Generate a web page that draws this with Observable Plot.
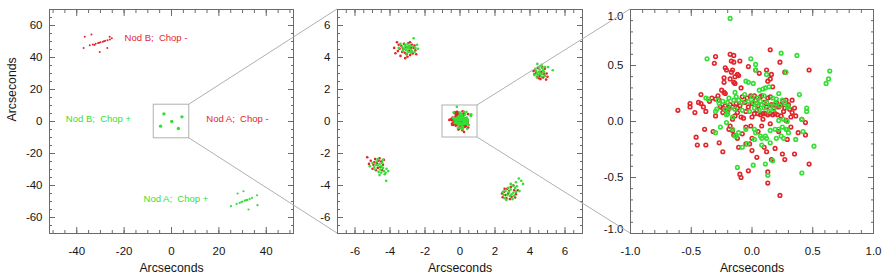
<!DOCTYPE html>
<html><head><meta charset="utf-8">
<script src="https://cdn.jsdelivr.net/npm/d3@7"></script>
<script src="https://cdn.jsdelivr.net/npm/@observablehq/plot@0.6"></script>
<style>
body{margin:0;background:#fff;}
#wrap{position:relative;width:885px;height:278px;overflow:hidden;background:#fff;}
#wrap svg{position:absolute;top:0;}
</style></head><body><div id="wrap"></div>
<script>
// ---------------- data ----------------
// Panel 1 (wide field)
const p1Red = [[-36.6,52.9],[-33.8,54.4],[-26.1,52.9],[-37.1,46.0],[-30.3,43.5],[-27.1,46.0],
  [-34.5,47.6],[-33.2,48.2],[-32.5,47.8],[-32.0,48.6],[-31.0,49.0],[-30.5,49.2],[-30.0,49.5],
  [-29.0,49.9],[-28.5,50.1],[-28.0,50.4],[-27.0,50.8],[-26.0,51.3],[-25.2,52.0]];
const p1Green = [[27.9,-45.0],[30.4,-43.6],[36.1,-46.1],[25.1,-52.9],[36.3,-52.3],[32.5,-55.0],
  [27.5,-51.5],[28.8,-50.8],[29.5,-50.3],[30.0,-50.0],[31.0,-49.5],[31.5,-49.2],[32.0,-49.0],
  [33.0,-48.4],[34.0,-47.7]];
const p1Center = [[-3.2,4.75],[4.4,2.9],[-4.6,-2.9],[0.1,0.0],[2.9,-4.4]];
const redLabels = ["Nod B;\u00a0 Chop -", "Nod A;\u00a0 Chop -"];
const redLabelX = [-19.8, 14.7];
const redLabelY = [52.3, 1.6];
const greenLabels = ["Nod B;\u00a0 Chop +", "Nod A;\u00a0 Chop +"];
const greenLabelX = [-44.6, -11.8];
const greenLabelY = [1.6, -48.4];
const box1 = {x1: -7.5, x2: 7.5, y1: -10.5, y2: 10.5};

// Panel 2 outer clusters
const p2RedA = [[-3.69,4.27],[-3.13,3.96],[-3.50,4.80],[-3.35,4.72],[-3.20,4.85],[-2.95,4.90],[-2.75,4.80],[-2.65,4.60],[-2.55,4.45],[-2.70,4.25],[-2.85,4.15],[-3.05,4.20],[-3.30,4.35],[-3.45,4.55],[-3.55,4.40],[-3.76,4.60],[-3.25,4.55],[-3.10,4.65],[-2.90,4.40],[-2.80,4.60],[-3.00,4.05],[-3.40,4.10],[-2.60,4.75],[-3.15,4.30],[-2.50,4.20],[-3.60,4.95],[-2.85,4.95]];
const p2GreenA = [[-2.65,5.20],[-3.10,4.70],[-3.00,4.60],[-2.90,4.65],[-2.80,4.50],[-3.05,4.45],[-3.20,4.55],[-2.95,4.35],[-2.75,4.40],[-3.15,4.80],[-2.85,4.75],[-3.30,4.65],[-3.00,4.85],[-2.70,4.70],[-3.25,4.40],[-2.55,4.60],[-2.45,4.80],[-3.40,4.85],[-2.60,4.35],[-3.05,4.25],[-2.90,4.55],[-3.10,4.50],[-2.95,4.70],[-2.80,4.30],[-3.50,4.60],[-2.40,4.55]];
const p2RedB = [[4.92,2.62],[4.30,3.20],[4.40,2.80],[4.75,2.75],[4.85,3.30],[4.60,2.65],[4.35,3.05],[4.70,3.40],[4.50,2.70],[4.80,2.95],[4.25,2.95],[4.65,3.10],[4.95,3.00],[4.45,3.35],[4.55,2.85],[4.20,3.15],[5.00,2.80]];
const p2GreenB = [[4.42,3.60],[4.86,3.40],[5.03,3.40],[4.67,3.55],[4.50,3.10],[4.60,3.00],[4.40,3.00],[4.70,2.95],[4.55,3.25],[4.35,3.15],[4.75,3.20],[4.45,2.90],[4.65,2.80],[4.50,3.40],[4.80,3.10],[4.30,3.30],[4.60,3.45],[4.40,2.75],[4.70,3.35],[4.55,2.95],[5.30,3.20],[4.25,2.90],[4.85,2.85]];
const p2RedC = [[-5.30,-2.23],[-5.10,-2.45],[-4.85,-2.35],[-4.60,-2.30],[-4.50,-2.50],[-4.75,-2.60],[-4.95,-2.70],[-4.70,-2.90],[-4.55,-2.85],[-4.40,-2.70],[-5.00,-2.95],[-4.80,-3.05],[-4.65,-2.45],[-4.45,-3.05],[-4.90,-2.55],[-5.20,-2.65],[-4.35,-2.40]];
const p2GreenC = [[-4.22,-3.71],[-4.60,-2.65],[-4.70,-2.75],[-4.50,-2.80],[-4.80,-2.70],[-4.40,-2.90],[-4.55,-3.00],[-4.65,-3.15],[-4.35,-3.10],[-4.75,-2.50],[-4.45,-2.60],[-4.90,-2.85],[-4.30,-3.30],[-4.60,-3.35],[-4.20,-2.95],[-5.00,-2.60],[-4.85,-3.00],[-4.50,-3.20],[-4.25,-3.20],[-4.70,-2.35],[-4.40,-2.40],[-5.15,-2.80],[-4.10,-3.10]];
const p2RedD = [[2.44,-4.73],[2.60,-4.60],[2.50,-4.40],[2.70,-4.20],[2.90,-4.10],[3.10,-4.30],[3.20,-4.55],[2.95,-4.70],[2.75,-4.50],[2.85,-4.85],[2.55,-4.20],[3.05,-4.00],[3.30,-4.30],[2.65,-4.80],[3.15,-4.75],[2.80,-4.35],[2.40,-4.50]];
const p2GreenD = [[3.36,-3.56],[3.20,-3.80],[3.00,-4.00],[2.90,-4.25],[2.80,-4.40],[2.70,-4.60],[3.05,-4.45],[3.15,-4.15],[2.60,-4.35],[2.95,-4.55],[3.25,-4.05],[2.75,-4.15],[2.85,-4.65],[3.10,-4.65],[2.50,-4.60],[3.40,-4.35],[2.65,-4.90],[3.00,-4.85],[3.50,-3.70],[2.45,-4.40],[3.20,-4.40],[2.90,-3.90],[3.60,-3.90],[2.55,-4.80]];
const box2 = {x1: -1, x2: 1, y1: -1, y2: 1};

// Panel 3 (central cluster, also shown at panel 2 origin)
const p3Red = [[0.15,0.64],[-0.30,0.58],[-0.18,0.60],[-0.15,0.59],[-0.31,0.52],[-0.17,0.54],[-0.15,0.53],[-0.10,0.54],[0.23,0.53],[-0.22,0.48],[-0.21,0.46],[-0.16,0.46],[-0.17,0.44],[-0.03,0.49],[0.03,0.46],[0.12,0.46],[0.16,0.42],[0.06,0.43],[0.27,0.44],[0.47,0.46],[-0.12,0.42],[-0.14,0.40],[-0.11,0.41],[-0.23,0.39],[-0.23,0.35],[-0.18,0.38],[-0.15,0.35],[-0.14,0.34],[0.15,0.38],[0.13,0.36],[-0.09,0.30],[-0.25,0.28],[0.17,0.31],
  [-0.23,0.26],[-0.22,0.25],[-0.42,0.24],[-0.44,0.17],[-0.42,0.16],[-0.51,0.16],[-0.51,0.13],[-0.33,0.21],[-0.30,0.20],[-0.08,0.22],[-0.04,0.21],[-0.01,0.23],[0.02,0.23],[0.07,0.22],[0.08,0.23],[0.13,0.21],[0.15,0.22],[0.25,0.18],[0.28,0.19],[0.33,0.19],[-0.61,0.10],[-0.47,0.08],[-0.40,0.13],[-0.38,0.09],[-0.27,0.19],[-0.26,0.13],[-0.24,0.12],[-0.22,0.14],[-0.20,0.11],[-0.18,0.15],[-0.16,0.13],[-0.13,0.16],[-0.12,0.12],[-0.10,0.14],[-0.06,0.17],[-0.03,0.13],[0.00,0.16],[0.03,0.19],[0.05,0.14],[0.10,0.17],[0.12,0.13],[0.16,0.15],[0.18,0.12],[0.20,0.17],[0.22,0.13],[0.24,0.15],[0.27,0.12],[0.30,0.15],[0.31,0.11],[0.35,0.12],[-0.35,0.18],[-0.28,0.23],
  [0.02,0.07],[0.05,0.07],[0.07,0.06],[0.09,0.07],[0.11,0.07],[0.13,0.06],[0.15,0.07],[0.17,0.06],[0.19,0.07],[0.21,0.06],[0.24,0.05],[0.28,0.01],[0.32,0.04],[0.41,0.02],[0.44,-0.01],[0.36,0.05],[-0.07,0.03],[0.00,0.04],[-0.14,0.05],[-0.09,0.04],[-0.16,0.02],[0.09,0.02],[-0.24,0.08],[-0.30,0.05],[-0.20,0.09],[-0.12,0.08],[-0.05,0.09],[0.04,0.10],[0.26,0.09],[0.33,0.08],
  [-0.39,-0.07],[-0.46,-0.14],[-0.45,-0.21],[-0.38,-0.21],[-0.27,-0.19],[-0.24,-0.27],[-0.18,-0.04],[-0.19,-0.07],[-0.16,-0.08],[-0.15,-0.12],[-0.12,-0.15],[-0.11,-0.23],[-0.09,-0.50],[-0.10,-0.47],[-0.03,-0.44],[0.00,-0.26],[0.04,-0.32],[-0.05,-0.20],[-0.02,-0.20],[0.00,-0.15],[0.10,-0.23],[0.12,-0.27],[0.19,-0.24],[0.16,-0.34],[0.13,-0.45],[0.13,-0.55],[0.23,-0.66],[0.25,-0.29],[0.27,-0.34],[0.35,-0.29],[0.29,-0.16],[-0.05,-0.05],[-0.01,-0.04],[0.08,-0.04],[0.47,-0.38],[0.44,-0.12],[0.38,-0.10],[0.32,-0.05],[0.22,-0.09],[0.15,-0.02],[-0.32,-0.09],[-0.08,-0.11],[0.05,-0.09]];
const p3Green = [[-0.18,0.92],[-0.37,0.56],[-0.01,0.56],[0.24,0.61],[0.37,0.59],[0.03,0.51],[0.03,0.46],[0.28,0.44],[0.12,0.42],[0.64,0.45],[0.63,0.38],[0.61,0.34],[-0.05,0.36],[-0.03,0.35],[0.01,0.34],[0.09,0.29],[0.11,0.30],[0.06,0.28],[0.14,0.31],[0.22,0.25],[0.39,0.24],[-0.14,0.26],[-0.38,0.21],
  [-0.28,0.19],[-0.24,0.18],[-0.20,0.17],[-0.15,0.19],[-0.11,0.19],[-0.08,0.17],[-0.03,0.18],[0.01,0.17],[0.04,0.16],[0.08,0.15],[0.12,0.17],[0.15,0.14],[0.19,0.16],[0.23,0.14],[0.27,0.17],[0.30,0.13],[-0.06,0.24],[0.00,0.22],[0.05,0.21],[0.10,0.23],[0.17,0.21],[-0.13,0.22],[0.02,0.12],[0.06,0.10],[0.10,0.12],[0.14,0.09],[0.18,0.11],[-0.02,0.09],[0.07,0.18],[0.20,0.20],[0.25,0.19],[-0.19,0.21],
  [-0.30,0.09],[-0.22,0.11],[-0.18,0.12],[-0.14,0.11],[-0.08,0.10],[-0.21,-0.01],[-0.30,-0.10],[-0.26,-0.05],[-0.11,-0.10],[-0.14,-0.13],[-0.08,-0.23],[-0.05,-0.07],[0.02,-0.07],[0.03,-0.10],[0.07,-0.13],[0.11,-0.13],[0.08,-0.15],[0.12,-0.15],[0.15,-0.08],[0.19,-0.07],[0.25,-0.05],[0.28,-0.07],[0.30,-0.10],[0.20,-0.15],[0.26,-0.15],[0.36,-0.16],[0.42,-0.09],[0.41,-0.46],[0.17,-0.35],[0.01,-0.39],[0.11,-0.38],[-0.12,-0.41],[0.13,-0.48],[-0.21,0.06],[-0.16,0.04],[0.22,0.01],[0.26,0.02],[0.29,0.00],[0.41,0.02],[0.45,0.12],[0.45,0.09],[0.29,0.13],[0.51,-0.22],[0.08,-0.21],[0.15,-0.19],[0.02,-0.16],[-0.04,-0.20],[-0.16,-0.07],[-0.13,-0.13],[-0.29,0.11],[-0.27,0.16],[-0.20,0.07],[0.22,-0.07],[0.24,-0.13],[0.29,-0.07],[-0.36,0.20]];

// tick values
const p1XTicks = [-40, -20, 0, 20, 40];
const p1YTicks = [-60, -40, -20, 0, 20, 40, 60];
const p2Ticks = [-6, -4, -2, 0, 2, 4, 6];
const p3Ticks = [-1.0, -0.5, 0.0, 0.5, 1.0];
const axisTitle = "Arcseconds";

// ---------------- drawing ----------------
const FONT = "'Liberation Sans', Arial, Helvetica, sans-serif";
const RED = "#e0262c", GREEN = "#34df34", FRAME = "#6a6a6a", TEXT = "#151515", LINK = "#b0b0b0";
const H = 278;

function boxAxes({xMajor, xMinor, yMajor, yMinor, xFmt, yFmt, yLabelAxes, yTitle}) {
  const s = {stroke: FRAME, strokeWidth: 1, label: null, fill: "none"};
  const t = {tickSize: 0, label: null, fill: TEXT, fontSize: 11.5};
  const marks = [
    Plot.frame({stroke: FRAME, strokeWidth: 1}),
    Plot.axisX({...s, anchor: "bottom", ticks: xMajor, tickSize: 6, dy: -6}),
    Plot.axisX({...s, anchor: "top", ticks: xMajor, tickSize: 6, dy: 6}),
    Plot.axisX({...s, anchor: "bottom", ticks: xMinor, tickSize: 3, dy: -3}),
    Plot.axisX({...s, anchor: "top", ticks: xMinor, tickSize: 3, dy: 3}),
    Plot.axisY({...s, anchor: "left", ticks: yMajor, tickSize: 6, dx: 6}),
    Plot.axisY({...s, anchor: "right", ticks: yMajor, tickSize: 6, dx: -6}),
    Plot.axisY({...s, anchor: "left", ticks: yMinor, tickSize: 3, dx: 3}),
    Plot.axisY({...s, anchor: "right", ticks: yMinor, tickSize: 3, dx: -3}),
    Plot.axisX({...t, anchor: "bottom", ticks: xMajor, tickPadding: 13, tickFormat: xFmt}),
    Plot.text([axisTitle], {frameAnchor: "bottom", dy: 35, lineAnchor: "middle", fontSize: 12.3, fill: TEXT})
  ];
  if (yLabelAxes) marks.push(...yLabelAxes(t));
  else marks.push(Plot.axisY({...t, anchor: "left", ticks: yMajor, tickPadding: 7, tickFormat: yFmt}));
  if (yTitle) marks.push(Plot.text([axisTitle], {frameAnchor: "left", dx: -37, rotate: -90, lineAnchor: "middle", fontSize: 12.3, fill: TEXT}));
  return marks;
}

const intFmt = d => String(d);
const oneFmt = d => d.toFixed(1);
const rect = b => [b];

const base = {height: H, marginTop: 9, marginBottom: 45,
  style: {background: "transparent", fontFamily: FONT, fontSize: "11.5px", color: TEXT}};

// Panel 1
const p1 = Plot.plot({
  ...base, width: 300, marginLeft: 49, marginRight: 7,
  x: {domain: [-51.5, 51.5]}, y: {domain: [-70, 70]},
  marks: [
    ...boxAxes({xMajor: p1XTicks, xMinor: d3.range(-50, 51, 5), yMajor: p1YTicks, yMinor: d3.range(-70, 71, 5), xFmt: intFmt, yFmt: intFmt, yTitle: true}),
    Plot.rect(rect(box1), {x1: "x1", x2: "x2", y1: "y1", y2: "y2", fill: "none", stroke: LINK, strokeWidth: 1}),
    Plot.dot(p1Red, {x: d => d[0], y: d => d[1], r: 1, fill: RED}),
    Plot.dot(p1Green, {x: d => d[0], y: d => d[1], r: 1.1, fill: GREEN}),
    Plot.dot(p1Center, {x: d => d[0], y: d => d[1], r: 1.7, fill: GREEN}),
    Plot.text(redLabels, {x: (d, i) => redLabelX[i], y: (d, i) => redLabelY[i], text: d => d, textAnchor: "start", lineAnchor: "middle", fill: RED, fontSize: 9.5}),
    Plot.text(greenLabels, {x: (d, i) => greenLabelX[i], y: (d, i) => greenLabelY[i], text: d => d, textAnchor: "start", lineAnchor: "middle", fill: GREEN, fontSize: 9.5})
  ]
});

// Panel 2
const p2Red = [...p2RedA, ...p2RedB, ...p2RedC, ...p2RedD, ...p3Red];
const p2Green = [...p2GreenA, ...p2GreenB, ...p2GreenC, ...p2GreenD, ...p3Green];
const p2 = Plot.plot({
  ...base, width: 295, marginLeft: 47, marginRight: 3,
  x: {domain: [-7, 7]}, y: {domain: [-7, 7]},
  marks: [
    ...boxAxes({xMajor: p2Ticks, xMinor: d3.range(-7, 7.01, 0.5), yMajor: p2Ticks, yMinor: d3.range(-7, 7.01, 0.5), xFmt: intFmt, yFmt: intFmt}),
    Plot.rect(rect(box2), {x1: "x1", x2: "x2", y1: "y1", y2: "y2", fill: "none", stroke: LINK, strokeWidth: 1}),
    Plot.dot(p2Red, {x: d => d[0], y: d => d[1], r: 1.3, fill: RED}),
    Plot.dot(p2Green, {x: d => d[0], y: d => d[1], r: 1.3, fill: GREEN})
  ]
});

// Panel 3
const p3Minor = d3.range(-1, 1.001, 0.1).map(v => +v.toFixed(2));
const p3 = Plot.plot({
  ...base, width: 305, marginLeft: 50, marginRight: 12,
  x: {domain: [-1, 1]}, y: {domain: [-1, 1]},
  marks: [
    ...boxAxes({xMajor: p3Ticks, xMinor: p3Minor, yMajor: p3Ticks, yMinor: p3Minor, xFmt: oneFmt, yFmt: oneFmt,
      yLabelAxes: t => [
        Plot.axisY({...t, anchor: "left", ticks: p3Ticks.slice(1, 4), tickPadding: 7, tickFormat: oneFmt}),
        Plot.axisY({...t, anchor: "left", ticks: p3Ticks.slice(4), tickPadding: 7, tickFormat: oneFmt, dy: 7}),
        Plot.axisY({...t, anchor: "left", ticks: p3Ticks.slice(0, 1), tickPadding: 7, tickFormat: oneFmt, dy: -4})
      ]}),
    Plot.dot(p3Red, {x: d => d[0], y: d => d[1], r: 1.8, stroke: RED, strokeWidth: 1.6, fill: "none"}),
    Plot.dot(p3Green, {x: d => d[0], y: d => d[1], r: 1.8, stroke: GREEN, strokeWidth: 1.6, fill: "none"})
  ]
});

const wrap = document.getElementById("wrap");
const offsets = [0, 290, 580];
[p1, p2, p3].forEach((p, i) => { p.style.left = offsets[i] + "px"; wrap.appendChild(p); });

// connector lines between zoom boxes and next panel frames
const ov = d3.select(wrap).append("svg").attr("width", 885).attr("height", H).style("left", "0px");
function pos(p, off, x, y) { return [off + p.scale("x").apply(x), p.scale("y").apply(y)]; }
function link(a, b) {
  ov.append("line").attr("x1", a[0]).attr("y1", a[1]).attr("x2", b[0]).attr("y2", b[1])
    .attr("stroke", LINK).attr("stroke-width", 1);
}
const d2x = p2.scale("x").domain, d2y = p2.scale("y").domain;
const d3x = p3.scale("x").domain, d3y = p3.scale("y").domain;
link(pos(p1, 0, box1.x2, box1.y2), pos(p2, 290, d2x[0], d2y[1]));
link(pos(p1, 0, box1.x2, box1.y1), pos(p2, 290, d2x[0], d2y[0]));
link(pos(p2, 290, box2.x2, box2.y2), pos(p3, 580, d3x[0], d3y[1]));
link(pos(p2, 290, box2.x2, box2.y1), pos(p3, 580, d3x[0], d3y[0]));
</script></body></html>
